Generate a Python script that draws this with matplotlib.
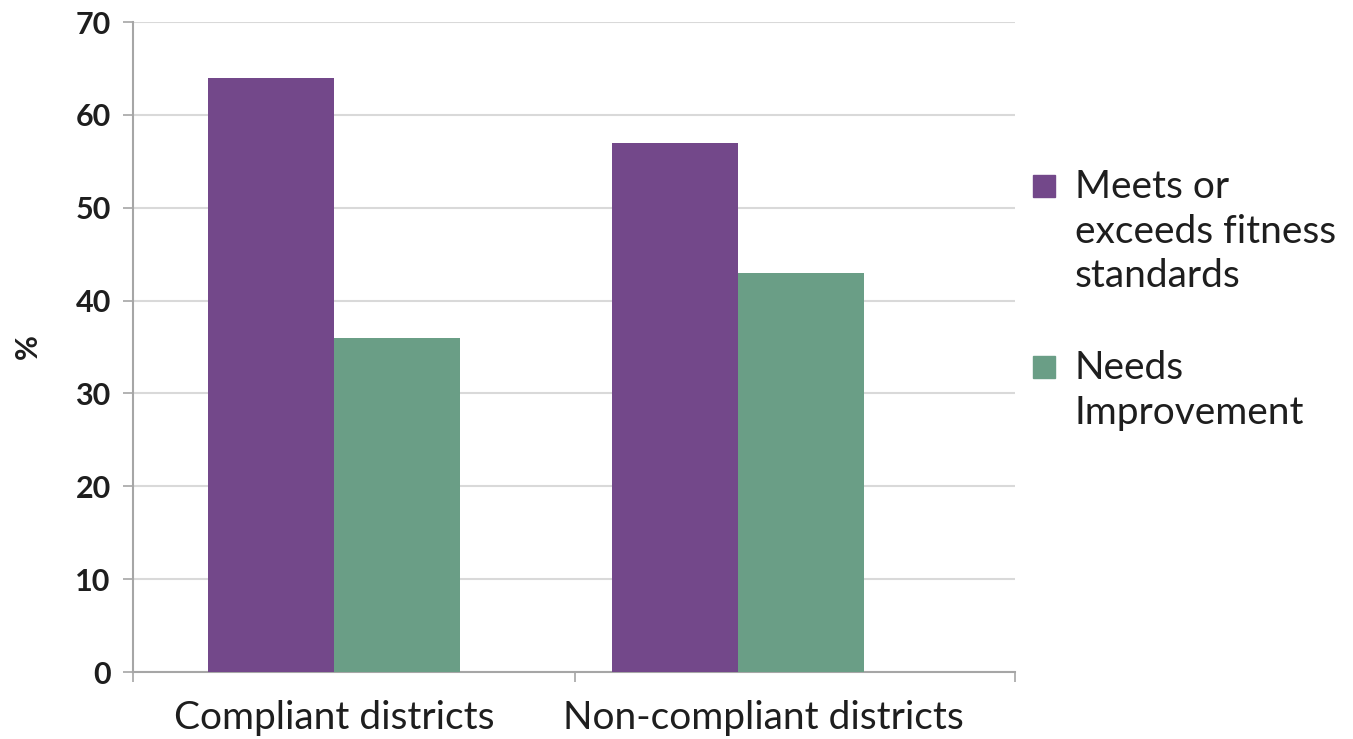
import numpy as np
import matplotlib.pyplot as plt
from matplotlib.patches import Rectangle

# Dados
categorias = ['Compliant districts', 'Non-compliant districts']
atende = [64, 57]          # Meets or exceeds fitness standards
melhorar = [36, 43]        # Needs Improvement
rotulos = ['Meets or\nexceeds fitness\nstandards', 'Needs\nImprovement']
y_ticks = [0, 10, 20, 30, 40, 50, 60, 70]

roxo = '#73488a'
verde = '#6a9e86'
cinza = '#a6a6a6'
texto = '#1e1e1e'

plt.rcParams['font.family'] = ['Lato', 'DejaVu Sans']

W, H = 1353, 739
fig = plt.figure(figsize=(W / 100, H / 100), dpi=100)
ax = fig.add_axes([133 / W, 1 - 672 / H, (1015 - 133) / W, (672 - 22) / H])

x = np.arange(len(categorias))
largura = 0.312
b1 = ax.bar(x - largura / 2, atende, largura, color=roxo, zorder=3)
b2 = ax.bar(x + largura / 2, melhorar, largura, color=verde, zorder=3)

ax.set_xlim(-0.4975, 1.6856)
ax.set_ylim(0, 70)

# eixo y
ax.set_yticks(y_ticks)
ax.set_yticklabels([str(v) for v in y_ticks], fontsize=22, fontweight='bold', color=texto)
ax.tick_params(axis='y', length=7, width=1.2, color=cinza, pad=9)
ax.grid(axis='y', color='#d9d9d9', linewidth=1.5, zorder=0)
ax.set_ylabel('%', fontsize=22, fontweight='bold', labelpad=24, color=texto)

# eixo x: marcas entre categorias, rótulos à parte
ax.set_xticks([-0.4975, 0.597, 1.6856])
ax.set_xticklabels([])
ax.tick_params(axis='x', length=7, width=1.2, color=cinza)
for pos, nome in zip([0.0, 1.064], categorias):
    ax.text(pos, -3.0, nome, ha='center', va='top', fontsize=28, color=texto)

for lado in ['top', 'right']:
    ax.spines[lado].set_visible(False)
for lado in ['left', 'bottom']:
    ax.spines[lado].set_color(cinza)
    ax.spines[lado].set_linewidth(1.5)

# legenda: quadrado alinhado com a primeira linha do rótulo
for cor, rot, y_px in zip([roxo, verde], rotulos, [186, 367]):
    fig.patches.append(Rectangle((1033 / W, 1 - (y_px + 11) / H), 22 / W, 22 / H,
                                 transform=fig.transFigure, color=cor))
    fig.text(1075 / W, 1 - (y_px - 17) / H, rot, ha='left', va='top', fontsize=28,
             color=texto, linespacing=1.3)

fig.savefig('out.png', dpi=100)
